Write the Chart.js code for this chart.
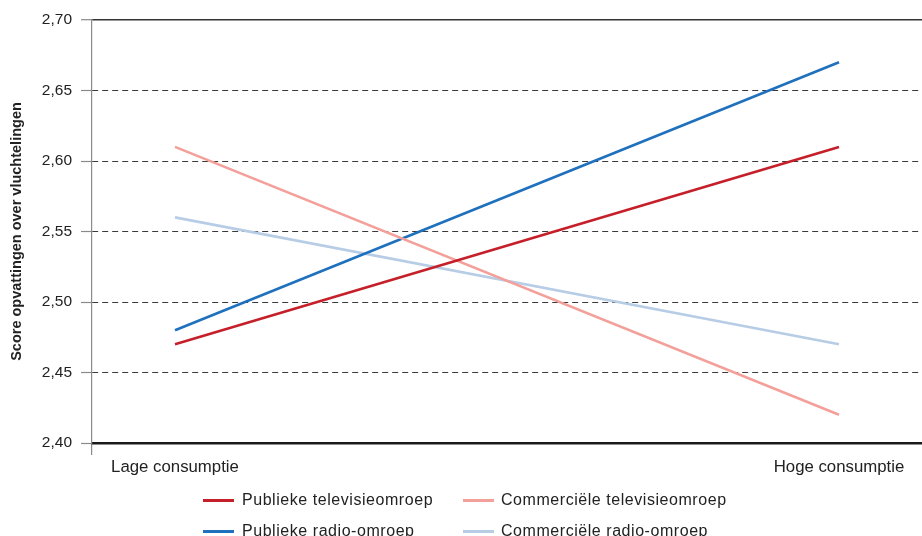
<!DOCTYPE html>
<html>
<head>
<meta charset="utf-8">
<script src="https://cdn.jsdelivr.net/npm/chart.js@4/dist/chart.umd.min.js"></script>
<style>
  html, body { margin: 0; padding: 0; background: #fff; }
  #wrap { position: relative; width: 922px; height: 536px; overflow: hidden; }
  #legend { position: absolute; left: 0; top: 0; width: 922px; height: 536px; pointer-events: none;
            font-family: "Liberation Sans", Arial, sans-serif; font-size: 16px; color: #222; letter-spacing: 0.55px; }
  .item { position: absolute; height: 20px; line-height: 20px; white-space: nowrap; }
  .sw { position: absolute; left: 0; top: 9px; width: 31px; height: 2.5px; }
  .tx { position: absolute; top: 0; }
</style>
</head>
<body>
<div id="wrap">
  <canvas id="c" width="922" height="536"></canvas>
  <div id="legend"></div>
</div>
<script>
const categories = ["Lage consumptie", "Hoge consumptie"];
const seriesNames = ["Publieke televisieomroep", "Commerciële televisieomroep", "Publieke radio-omroep", "Commerciële radio-omroep"];
const publiekeTV = [2.47, 2.61];
const commercieleTV = [2.61, 2.42];
const publiekeRadio = [2.48, 2.67];
const commercieleRadio = [2.56, 2.47];
const yTicks = [2.40, 2.45, 2.50, 2.55, 2.60, 2.65, 2.70];
const yTitle = "Score opvattingen over vluchtelingen";

const colors = ["#c51f2a", "#f4a09a", "#1f70bd", "#b7cde6"];
const allSeries = [publiekeTV, commercieleTV, publiekeRadio, commercieleRadio];

const datasets = allSeries.map((vals, i) => ({
  label: seriesNames[i],
  data: vals.map((v, j) => ({ x: j, y: v })),
  borderColor: colors[i],
  backgroundColor: colors[i],
  borderWidth: 2.6,
  pointRadius: 0,
  tension: 0,
  fill: false
}));

const htmlLegend = {
  id: 'htmlLegend',
  afterUpdate(chart) {
    const box = document.getElementById('legend');
    box.innerHTML = '';
    const pos = [[203, 490], [463, 490], [203, 521], [463, 521]];
    chart.data.datasets.forEach((ds, i) => {
      const it = document.createElement('div');
      it.className = 'item';
      it.style.left = pos[i][0] + 'px';
      it.style.top = pos[i][1] + 'px';
      const sw = document.createElement('span');
      sw.className = 'sw';
      sw.style.background = ds.borderColor;
      const tx = document.createElement('span');
      tx.className = 'tx';
      tx.style.left = (i % 2 === 0 ? 39 : 38) + 'px';
      tx.textContent = ds.label;
      it.appendChild(sw); it.appendChild(tx);
      box.appendChild(it);
    });
  }
};

const fontFam = '"Liberation Sans", Arial, sans-serif';

new Chart(document.getElementById('c'), {
  type: 'line',
  data: { datasets },
  plugins: [htmlLegend],
  options: {
    responsive: false,
    animation: false,
    events: [],
    layout: { padding: { top: 20, right: 0, bottom: 53, left: 0 } },
    plugins: { legend: { display: false }, tooltip: { enabled: false } },
    scales: {
      x: {
        type: 'linear',
        min: -0.125,
        max: 1.125,
        afterBuildTicks(scale) { scale.ticks = [{ value: -0.125 }, { value: 0 }, { value: 1 }]; },
        afterFit(scale) { scale.height = 40; },
        ticks: {
          autoSkip: false,
          maxRotation: 0,
          padding: 2,
          color: '#222',
          font: { family: fontFam, size: 16.8 },
          callback(v) { return Number.isInteger(v) ? categories[v] : ''; }
        },
        grid: {
          drawOnChartArea: false,
          drawTicks: true,
          tickLength: 12,
          color: (ctx) => (ctx.tick && ctx.tick.value === -0.125) ? '#8a8a8a' : 'rgba(0,0,0,0)',
          tickColor: (ctx) => (ctx.tick && ctx.tick.value === -0.125) ? '#8a8a8a' : 'rgba(0,0,0,0)',
          lineWidth: 1.2
        },
        border: { display: true, color: '#1a1a1a', width: 2.6 }
      },
      y: {
        min: 2.40,
        max: 2.70,
        afterBuildTicks(scale) { scale.ticks = yTicks.map(v => ({ value: v })); },
        afterFit(scale) { scale.width = 92; },
        ticks: {
          padding: 9,
          color: '#222',
          font: { family: fontFam, size: 15.5 },
          callback(v) { return Number(v).toFixed(2).replace('.', ','); }
        },
        title: {
          display: true,
          text: yTitle,
          color: '#222',
          font: { family: fontFam, size: 14.5, weight: 'bold' },
          padding: { top: 8, bottom: 0 }
        },
        grid: {
          drawTicks: true,
          tickLength: 11,
          color: (ctx) => {
            const v = ctx.tick ? Math.round(ctx.tick.value * 100) : 0;
            if (v === 240) return 'rgba(0,0,0,0)';
            if (v === 270) return '#333';
            return '#3a3a3a';
          },
          lineWidth: (ctx) => {
            const v = ctx.tick ? Math.round(ctx.tick.value * 100) : 0;
            return v === 270 ? 1.4 : 1;
          },
          tickColor: '#8a8a8a',
          tickWidth: 1.2
        },
        border: {
          display: true,
          color: '#8a8a8a',
          width: 1.2,
          dash: (ctx) => {
            const v = ctx.tick ? Math.round(ctx.tick.value * 100) : 0;
            return (v === 270 || v === 240) ? [] : [6, 4];
          }
        }
      }
    }
  }
});
</script>
</body>
</html>
